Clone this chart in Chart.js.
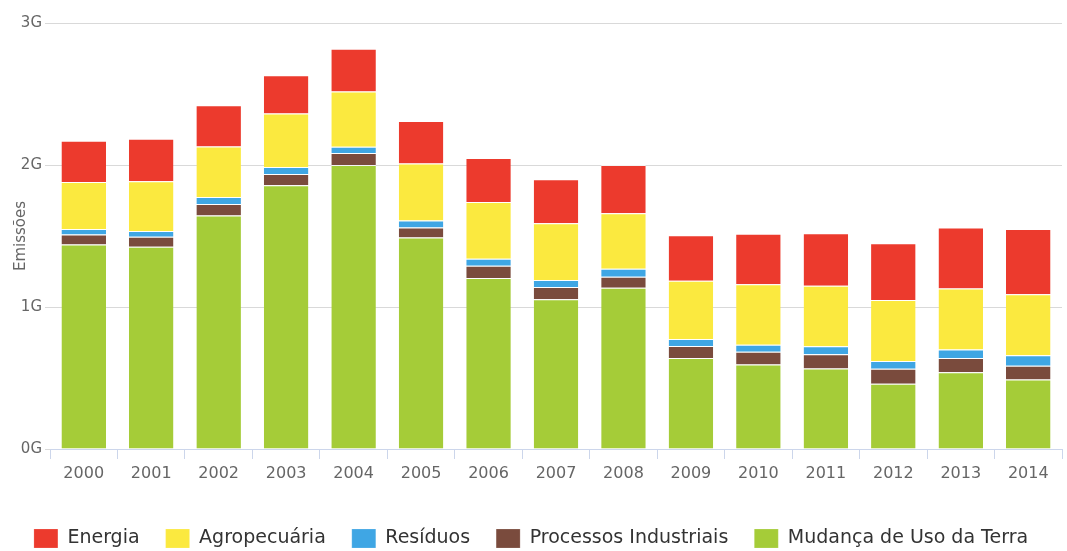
<!DOCTYPE html>
<html>
<head>
<meta charset="utf-8">
<script src="https://cdn.jsdelivr.net/npm/chart.js@4/dist/chart.umd.min.js"></script>
<style>
  html, body { margin: 0; padding: 0; background: #fff; }
  #wrap { width: 1067px; height: 551px; }
</style>
</head>
<body>
<div id="wrap"><canvas id="emissoesChart"></canvas></div>
<script>
const anos = ['2000', '2001', '2002', '2003', '2004', '2005', '2006', '2007',
  '2008', '2009', '2010', '2011', '2012', '2013', '2014'];

// valores em bilhões (G) de toneladas
const mudancaUso = [1.44, 1.425, 1.645, 1.858, 2.0, 1.49, 1.205, 1.055, 1.135, 0.64, 0.595, 0.567, 0.46, 0.54, 0.49];
const processos = [0.07, 0.07, 0.08, 0.078, 0.085, 0.07, 0.085, 0.085, 0.078, 0.085, 0.09, 0.10, 0.106, 0.10, 0.096];
const residuos = [0.04, 0.04, 0.05, 0.05, 0.043, 0.05, 0.05, 0.05, 0.057, 0.05, 0.05, 0.057, 0.053, 0.06, 0.074];
const agropecuaria = [0.33, 0.35, 0.355, 0.376, 0.39, 0.40, 0.40, 0.40, 0.39, 0.41, 0.425, 0.425, 0.43, 0.43, 0.43];
const energia = [0.29, 0.30, 0.29, 0.27, 0.30, 0.30, 0.31, 0.31, 0.34, 0.32, 0.355, 0.37, 0.40, 0.43, 0.46];

const cores = {
  energia: '#ec3a2d',
  agro: '#fbe93f',
  residuos: '#3fa6e4',
  processos: '#7a4b3d',
  mudanca: '#a5cc38'
};

const toG = arr => arr.map(v => v * 1e9);

const ctx = document.getElementById('emissoesChart').getContext('2d');

const barra = {
  borderColor: 'rgba(255,255,255,0.7)',
  borderWidth: { top: 1 },
  borderSkipped: 'bottom',
  barPercentage: 0.66,
  categoryPercentage: 1
};

const chart = new Chart(ctx, {
  type: 'bar',
  data: {
    labels: anos,
    datasets: [
      { label: 'Mudança de Uso da Terra', data: toG(mudancaUso), backgroundColor: cores.mudanca, ...barra },
      { label: 'Processos Industriais', data: toG(processos), backgroundColor: cores.processos, ...barra },
      { label: 'Resíduos', data: toG(residuos), backgroundColor: cores.residuos, ...barra },
      { label: 'Agropecuária', data: toG(agropecuaria), backgroundColor: cores.agro, ...barra },
      { label: 'Energia', data: toG(energia), backgroundColor: cores.energia, ...barra }
    ]
  },
  options: {
    responsive: true,
    maintainAspectRatio: false,
    animation: false,
    layout: { padding: { top: 23, right: 5, left: 0, bottom: -7 } },
    plugins: {
      legend: {
        position: 'bottom',
        reverse: true,
        labels: {
          boxWidth: 24,
          boxHeight: 19,
          padding: 26,
          color: '#333',
          font: { family: 'DejaVu Sans', size: 19, lineHeight: 1 }
        }
      },
      tooltip: { enabled: false },
      title: { display: false }
    },
    scales: {
      x: {
        stacked: true,
        afterFit: s => { s.height = 54; },
        grid: {
          offset: true,
          drawOnChartArea: false,
          drawTicks: true,
          tickLength: 10,
          color: '#ccd6eb'
        },
        border: { color: '#ccd6eb' },
        ticks: {
          color: '#666',
          padding: 5,
          font: { family: 'DejaVu Sans', size: 16 }
        }
      },
      y: {
        stacked: true,
        min: 0,
        max: 3e9,
        afterFit: s => { s.width = 50; },
        border: { display: false },
        grid: { color: '#d9d9d9', tickLength: 5 },
        ticks: {
          stepSize: 1e9,
          color: '#666',
          padding: 3,
          font: { family: 'DejaVu Sans', size: 15 },
          callback: v => (v / 1e9) + 'G'
        },
        title: {
          display: true,
          text: 'Emissões',
          color: '#666',
          padding: { top: 12, bottom: 0 },
          font: { family: 'DejaVu Sans', size: 15 }
        }
      }
    }
  }
});
</script>
</body>
</html>
